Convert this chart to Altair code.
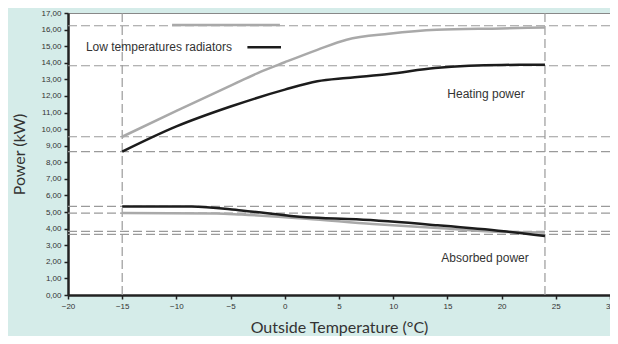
import altair as alt
import pandas as pd

# ---- data ----
x_ticks = [-20, -15, -10, -5, 0, 5, 10, 15, 20, 25, 30]
y_ticks = list(range(0, 18))

heatg_temps = [-15, -10, -5, -2.5, 0, 3, 5.7, 9.6, 14, 20, 24]
heat_gray = [9.54, 11.1, 12.62, 13.38, 14.03, 14.78, 15.39, 15.75, 15.99, 16.07, 16.13]
heatb_temps = [-15, -10, -5, 0, 3, 5.7, 9.6, 13.85, 17, 20, 24]
heat_black = [8.64, 10.16, 11.36, 12.38, 12.88, 13.08, 13.32, 13.68, 13.82, 13.87, 13.88]

absb_temps = [-15, -8.6, -4, 2, 6.6, 14.1, 20.2, 24]
abs_black = [5.34, 5.34, 5.1, 4.68, 4.56, 4.2, 3.84, 3.55]
absg_temps = [-15, -6.3, -4, 2, 8.1, 14.1, 20.2, 24]
abs_gray = [4.94, 4.92, 4.85, 4.6, 4.28, 4.04, 3.8, 3.77]

ref_y = [16.23, 13.82, 9.54, 8.64, 5.34, 4.94, 3.83, 3.65]
ref_x = [-15, 24]

legend_label = "Low temperatures radiators"
legend_text_pos = [-18.35, 14.94]
legend_black = [-3.45, -0.35, 14.94]
legend_gray = [-10.4, -0.45, 16.27]

labels = ["Heating power", "Absorbed power"]
label_x = [18.56, 18.47]
label_y = [12.13, 2.23]

series_names = ["high", "low"]
series_colors = ["#a9a9a9", "#1c1c1c"]

# ---- tables ----
rows = []
for t, v in zip(heatg_temps, heat_gray):
    rows.append({"t": t, "p": v, "s": "high", "g": "heat_high"})
for t, v in zip(heatb_temps, heat_black):
    rows.append({"t": t, "p": v, "s": "low", "g": "heat_low"})
for t, v in zip(absg_temps, abs_gray):
    rows.append({"t": t, "p": v, "s": "high", "g": "abs_high"})
for t, v in zip(absb_temps, abs_black):
    rows.append({"t": t, "p": v, "s": "low", "g": "abs_low"})
lines_df = pd.DataFrame(rows)

href_df = pd.DataFrame({"p": ref_y})
vref_df = pd.DataFrame({"t": ref_x})
leg_df = pd.DataFrame({
    "t": [legend_gray[0], legend_black[0]],
    "t2": [legend_gray[1], legend_black[1]],
    "p": [legend_gray[2], legend_black[2]],
    "s": ["high", "low"],
})
legtext_df = pd.DataFrame({"t": [legend_text_pos[0]], "p": [legend_text_pos[1]], "txt": [legend_label]})
labels_df = pd.DataFrame({"t": label_x, "p": label_y, "txt": labels})

xscale = alt.Scale(domain=[-20, 30], nice=False, zero=False)
yscale = alt.Scale(domain=[0, 17], nice=False)

xaxis = alt.Axis(
    values=x_ticks, format="d", title="Outside Temperature (°C)",
    labelFont="Liberation Sans", labelFontSize=8, labelColor="#333",
    labelFlush=False, labelOverlap=False, labelPadding=3,
    tickColor="#222", tickSize=4, tickWidth=1.5,
    domainColor="#222", domainWidth=2.5, grid=False,
    titleFont="Lato", titleFontSize=16, titleFontWeight="normal",
    titleColor="#333", titlePadding=9,
)
yaxis = alt.Axis(
    values=y_ticks, title="Power (kW)",
    labelExpr="replace(format(datum.value, '.2f'), '.', ',')",
    labelFont="Liberation Sans", labelFontSize=8, labelColor="#333",
    labelFlush=False, labelOverlap=False, labelPadding=3,
    tickColor="#222", tickSize=4, tickWidth=1.5,
    domainColor="#222", domainWidth=2.5, grid=False,
    titleFont="Lato", titleFontSize=16, titleFontWeight="normal",
    titleColor="#333", titlePadding=13,
)

X = lambda f: alt.X(f, type="quantitative", scale=xscale, axis=xaxis)
Y = lambda f: alt.Y(f, type="quantitative", scale=yscale, axis=yaxis)
color = alt.Color("s:N", scale=alt.Scale(domain=series_names, range=series_colors), legend=None)

href = alt.Chart(href_df).mark_rule(color="#9a9a9a", strokeWidth=1.2, strokeDash=[9, 4]).encode(y=Y("p"))
vref = alt.Chart(vref_df).mark_rule(color="#9a9a9a", strokeWidth=1.2, strokeDash=[9, 4]).encode(x=X("t"))

lines = alt.Chart(lines_df).mark_line(interpolate="monotone", strokeWidth=2.5).encode(
    x=X("t"), y=Y("p"), color=color, detail="g:N"
)

leg = alt.Chart(leg_df).mark_rule(strokeWidth=2.5).encode(
    x=X("t"), x2="t2", y=Y("p"), color=color
)
legtext = alt.Chart(legtext_df).mark_text(
    align="left", baseline="middle", font="Liberation Sans", fontSize=12, color="#333"
).encode(x=X("t"), y=Y("p"), text="txt:N")
labtext = alt.Chart(labels_df).mark_text(
    align="center", baseline="middle", font="Liberation Sans", fontSize=12, color="#333"
).encode(x=X("t"), y=Y("p"), text="txt:N")

chart = alt.layer(href, vref, lines, leg, legtext, labtext).properties(
    width=542, height=282,
    padding={"left": 60, "top": 5, "right": 0, "bottom": 41},
    autosize=alt.AutoSizeParams(type="none"),
    background="#d5ece9",
).configure_view(fill="white", stroke="#888", strokeWidth=1)

chart.save("out.html", embed_options={"renderer": "svg", "actions": False})
